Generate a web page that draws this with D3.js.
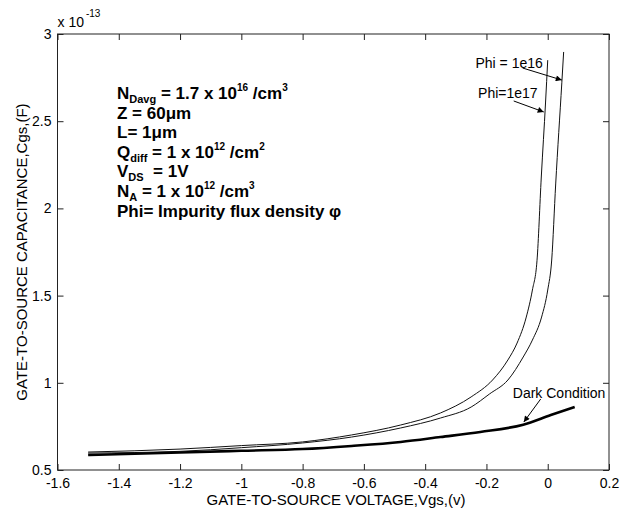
<!DOCTYPE html>
<html>
<head>
<meta charset="utf-8">
<script src="https://cdn.jsdelivr.net/npm/d3@7"></script>
<style>
  body { margin: 0; background: #fff; }
  svg { display: block; font-family: "Liberation Sans", Arial, sans-serif; }
  .note { font-weight: bold; font-size: 17px; white-space: pre; }
</style>
</head>
<body>
<svg id="chart" width="626" height="511"></svg>
<script>
// curve for Phi = 1e17 (left thin line)
var vgs17 = [-1.5, -1.2, -1.0, -0.8, -0.64, -0.48, -0.35, -0.25, -0.18, -0.13, -0.10, -0.07, -0.05, -0.035, -0.021, -0.007, 0];
var cgs17 = [0.603, 0.620, 0.640, 0.661, 0.701, 0.758, 0.827, 0.919, 1.016, 1.131, 1.228, 1.377, 1.532, 1.70, 2.18, 2.61, 2.85];

// curve for Phi = 1e16 (right thin line)
var vgs16 = [-1.5, -1.2, -1.0, -0.8, -0.64, -0.48, -0.35, -0.25, -0.19, -0.13, -0.08, -0.05, -0.02, 0, 0.013, 0.026, 0.046, 0.052];
var cgs16 = [0.597, 0.607, 0.628, 0.655, 0.689, 0.741, 0.798, 0.861, 0.936, 1.016, 1.148, 1.245, 1.377, 1.532, 1.704, 2.14, 2.72, 2.897];

// dark condition (thick line)
var vgsDark = [-1.5, -1.2, -1.0, -0.8, -0.64, -0.48, -0.35, -0.22, -0.08, 0.01, 0.088];
var cgsDark = [0.586, 0.600, 0.610, 0.620, 0.638, 0.661, 0.689, 0.718, 0.760, 0.815, 0.861];

var xTicks = [-1.6, -1.4, -1.2, -1, -0.8, -0.6, -0.4, -0.2, 0, 0.2];
var yTicks = [0.5, 1, 1.5, 2, 2.5, 3];

var noteLines = [
    [["N"], ["Davg", "sub"], [" = 1.7 x 10"], ["16", "sup"], [" /cm"], ["3", "sup"]],
    [["Z = 60\u03bcm"]],
    [["L= 1\u03bcm"]],
    [["Q"], ["diff", "sub"], [" = 1 x 10"], ["12", "sup"], [" /cm"], ["2", "sup"]],
    [["V"], ["DS", "sub"], ["  = 1V"]],
    [["N"], ["A", "sub"], [" = 1 x 10"], ["12", "sup"], [" /cm"], ["3", "sup"]],
    [["Phi= Impurity flux density \u03c6"]]
];

var svg = d3.select('#chart');
var mLeft = 57.5, mRight = 609, mTop = 34, mBottom = 470;

var x = d3.scaleLinear().domain([-1.6, 0.2]).range([mLeft, mRight]);
var y = d3.scaleLinear().domain([0.5, 3]).range([mBottom, mTop]);

// arrow head
svg.append('defs').append('marker')
    .attr('id', 'head')
    .attr('viewBox', '0 0 10 10')
    .attr('refX', 10).attr('refY', 5)
    .attr('markerWidth', 9).attr('markerHeight', 6)
    .attr('markerUnits', 'userSpaceOnUse')
    .attr('orient', 'auto')
    .append('path')
    .attr('d', 'M0,0 L10,5 L0,10 Z')
    .attr('fill', '#000');

// axes with inside ticks on all four sides
var axisStyle = function (g) {
    g.select('.domain').remove();
    g.selectAll('line').attr('stroke', '#222');
    g.selectAll('text').attr('font-size', '14px').attr('fill', '#000')
        .attr('font-family', '"Liberation Sans", Arial, sans-serif');
};

svg.append('g').attr('transform', 'translate(0,' + mBottom + ')')
    .call(d3.axisBottom(x).tickValues(xTicks).tickSizeInner(-6).tickSizeOuter(0).tickPadding(8)
        .tickFormat(function (d) { return String(+d.toFixed(1)); }))
    .call(axisStyle);
svg.append('g').attr('transform', 'translate(0,' + mTop + ')')
    .call(d3.axisTop(x).tickValues(xTicks).tickSizeInner(-6).tickSizeOuter(0).tickFormat(''))
    .call(axisStyle);
svg.append('g').attr('transform', 'translate(' + mLeft + ',0)')
    .call(d3.axisLeft(y).tickValues(yTicks).tickSizeInner(-6).tickSizeOuter(0).tickPadding(6)
        .tickFormat(function (d) { return String(d); }))
    .call(axisStyle);
svg.append('g').attr('transform', 'translate(' + mRight + ',0)')
    .call(d3.axisRight(y).tickValues(yTicks).tickSizeInner(-6).tickSizeOuter(0).tickFormat(''))
    .call(axisStyle);

svg.append('rect')
    .attr('x', mLeft).attr('y', mTop)
    .attr('width', mRight - mLeft).attr('height', mBottom - mTop)
    .attr('fill', 'none').attr('stroke', '#222').attr('stroke-width', 1);

// exponent label
var ex = svg.append('text').attr('x', mLeft).attr('y', 27).attr('font-size', '14px');
ex.append('tspan').text('x 10');
ex.append('tspan').attr('y', 17).attr('font-size', '10px').attr('dx', 2).text('-13');

// curves
var line = d3.line()
    .curve(d3.curveMonotoneX)
    .x(function (d) { return x(d[0]); })
    .y(function (d) { return y(d[1]); });

svg.append('path')
    .datum(d3.zip(vgs17, cgs17))
    .attr('d', line).attr('fill', 'none').attr('stroke', '#111').attr('stroke-width', 1);
svg.append('path')
    .datum(d3.zip(vgs16, cgs16))
    .attr('d', line).attr('fill', 'none').attr('stroke', '#111').attr('stroke-width', 1);
svg.append('path')
    .datum(d3.zip(vgsDark, cgsDark))
    .attr('d', line).attr('fill', 'none').attr('stroke', '#000').attr('stroke-width', 2.6);

// annotations (data coordinates)
var notes = [
    { label: 'Phi = 1e16', lx: -0.016, ly: 2.805, anchor: 'end', from: [-0.082, 2.805], to: [0.046, 2.736] },
    { label: 'Phi=1e17', lx: -0.033, ly: 2.633, anchor: 'end', from: [-0.111, 2.616], to: [-0.013, 2.553] },
    { label: 'Dark Condition', lx: -0.114, ly: 0.913, anchor: 'start', from: [-0.023, 0.907], to: [-0.078, 0.775] }
];
notes.forEach(function (n) {
    svg.append('text')
        .attr('x', x(n.lx)).attr('y', y(n.ly))
        .attr('text-anchor', n.anchor)
        .attr('font-size', '14px')
        .text(n.label);
    svg.append('line')
        .attr('x1', x(n.from[0])).attr('y1', y(n.from[1]))
        .attr('x2', x(n.to[0])).attr('y2', y(n.to[1]))
        .attr('stroke', '#000').attr('stroke-width', 1)
        .attr('marker-end', 'url(#head)');
});

// parameter block
noteLines.forEach(function (segs, i) {
    var base = 99 + i * 19.6;
    var t = svg.append('text').attr('class', 'note').attr('x', 117).attr('y', base);
    segs.forEach(function (s) {
        var sp = t.append('tspan').text(s[0]);
        if (s[1] === 'sub') sp.attr('y', base + 4).attr('font-size', '11px');
        else if (s[1] === 'sup') sp.attr('y', base - 8).attr('font-size', '10px');
        else sp.attr('y', base);
    });
});

// axis titles
svg.append('text')
    .attr('x', 336).attr('y', 505)
    .attr('text-anchor', 'middle').attr('font-size', '15px')
    .text('GATE-TO-SOURCE VOLTAGE,Vgs,(v)');
svg.append('text')
    .attr('transform', 'translate(27,252) rotate(-90)')
    .attr('text-anchor', 'middle').attr('font-size', '15px')
    .text('GATE-TO-SOURCE CAPACITANCE,Cgs,(F)');
</script>
</body>
</html>
